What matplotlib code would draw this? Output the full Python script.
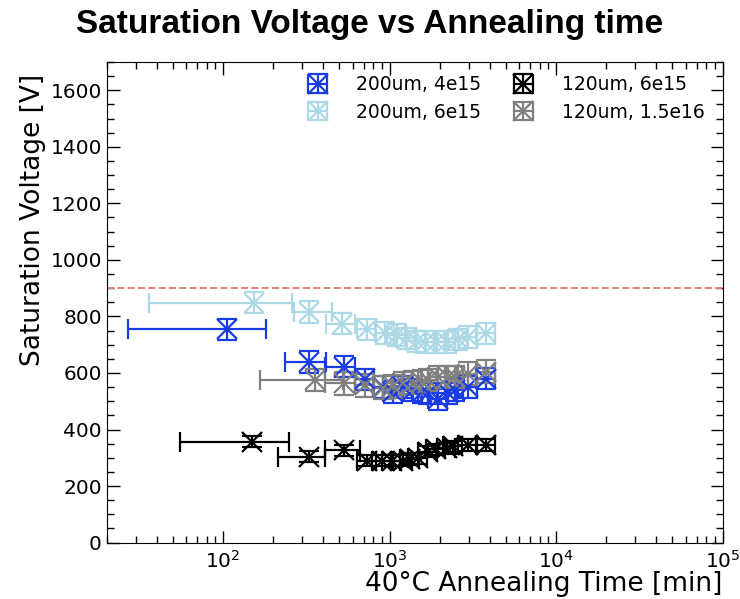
import matplotlib
matplotlib.use("Agg")
import matplotlib.pyplot as plt
from matplotlib.ticker import MultipleLocator, LogLocator, NullFormatter

# ---- data ----
labels = ["200um, 4e15", "200um, 6e15", "120um, 6e15", "120um, 1.5e16"]
colors = ["#1a3ce6", "#add8e6", "black", "grey"]

t_200_4e15 = [106, 327, 529, 713, 918, 1054, 1208, 1387, 1556, 1706, 1958, 2245, 2460, 2958, 3804]
v_200_4e15 = [754, 639, 622, 577, 551, 533, 551, 539, 533, 528, 507, 528, 539, 551, 580]
xlo_200_4e15 = [79, 90, 118, 95, 120, 135, 155, 180, 200, 220, 255, 290, 320, 380, 490]
xhi_200_4e15 = [76, 90, 92, 95, 120, 135, 155, 180, 200, 220, 255, 290, 320, 380, 490]
verr_200_4e15 = [38] * 15

t_200_6e15 = [153, 327, 517, 730, 939, 1102, 1265, 1452, 1637, 1913, 2200, 2570, 2958, 3804]
v_200_6e15 = [849, 816, 775, 754, 742, 734, 722, 712, 710, 710, 710, 719, 728, 740]
xlo_200_6e15 = [117, 61, 100, 95, 120, 140, 165, 190, 210, 250, 285, 330, 380, 490]
xhi_200_6e15 = [107, 124, 100, 95, 120, 140, 165, 190, 210, 250, 285, 330, 380, 490]
verr_200_6e15 = [38] * 14

t_120_6e15 = [150, 327, 529, 730, 899, 1030, 1208, 1325, 1486, 1706, 1913, 2200, 2400, 2958, 3804]
v_120_6e15 = [357, 304, 327, 290, 290, 290, 290, 296, 298, 322, 330, 333, 340, 345, 345]
xlo_120_6e15 = [95, 113, 118, 95, 115, 130, 155, 170, 190, 220, 250, 285, 310, 380, 490]
xhi_120_6e15 = [98, 84, 133, 95, 115, 130, 155, 170, 190, 220, 250, 285, 310, 380, 490]
verr_120_6e15 = [20] * 15

t_120_1p5e16 = [358, 529, 713, 918, 1054, 1208, 1387, 1556, 1706, 1958, 2245, 2460, 2958, 3804]
v_120_1p5e16 = [575, 563, 556, 548, 553, 563, 566, 569, 575, 586, 586, 586, 598, 605]
xlo_120_1p5e16 = [191, 118, 95, 120, 135, 155, 180, 200, 220, 255, 290, 320, 380, 490]
xhi_120_1p5e16 = [170, 92, 95, 120, 135, 155, 180, 200, 220, 255, 290, 320, 380, 490]
verr_120_1p5e16 = [40] * 14

series = [
    (t_200_4e15, v_200_4e15, xlo_200_4e15, xhi_200_4e15, verr_200_4e15),
    (t_200_6e15, v_200_6e15, xlo_200_6e15, xhi_200_6e15, verr_200_6e15),
    (t_120_6e15, v_120_6e15, xlo_120_6e15, xhi_120_6e15, verr_120_6e15),
    (t_120_1p5e16, v_120_1p5e16, xlo_120_1p5e16, xhi_120_1p5e16, verr_120_1p5e16),
]
breakdown_line = 900

# ---- plot ----
fig = plt.figure(figsize=(7.40, 5.99), dpi=100)
ax_h = 542.6 - 62
ax = fig.add_axes([106.7 / 740, 1 - 542.6 / 599, (722.5 - 106.7) / 740, ax_h / 599])

for (t, v, xlo, xhi, ve), lab, c in zip(series, labels, colors):
    ax.errorbar(t, v, xerr=[xlo, xhi], yerr=ve, fmt="x", color=c, ecolor=c,
                markersize=14, markeredgewidth=1.6, elinewidth=1.6,
                capsize=7, capthick=1.6, label=lab)

ax.axhline(breakdown_line, color="#e8837a", linestyle="--", linewidth=1.4)

ax.set_xscale("log")
ax.set_xlim(20, 1e5)
ax.set_ylim(0, 1700)
ax.yaxis.set_major_locator(MultipleLocator(200))
ax.yaxis.set_minor_locator(MultipleLocator(50))
ax.xaxis.set_major_locator(LogLocator(base=10, numticks=10))
ax.xaxis.set_minor_locator(LogLocator(base=10, subs=range(2, 10), numticks=20))
ax.xaxis.set_minor_formatter(NullFormatter())

ax.tick_params(which="both", direction="in", top=True, right=True, labelsize=14.5)
ax.tick_params(which="major", length=9, width=1)
ax.tick_params(which="minor", length=5, width=1)
ax.tick_params(axis="x", which="major", pad=5)

ax.set_xlabel("40°C Annealing Time [min]", fontsize=19)
ax.xaxis.set_label_coords(1.0, -(597 - 542.6) / ax_h)
ax.xaxis.label.set_ha("right")
ax.xaxis.label.set_va("bottom")

ax.set_ylabel("Saturation Voltage [V]", fontsize=19)
ax.yaxis.set_label_coords(-(106.7 - 46) / 615.8, (542.6 - 220) / ax_h)

ax.legend(ncol=2, loc="upper right", bbox_to_anchor=(0.992, 1.0), frameon=False,
          fontsize=13.5, handlelength=1.5, columnspacing=1.5, borderaxespad=0.3,
          labelspacing=0.45, handletextpad=1.3)

fig.text(0.5, 1 - 24 / 599, "Saturation Voltage vs Annealing time", ha="center", va="center",
         fontsize=24, fontweight="bold", family="Liberation Sans")

fig.savefig("out.png", dpi=100)
